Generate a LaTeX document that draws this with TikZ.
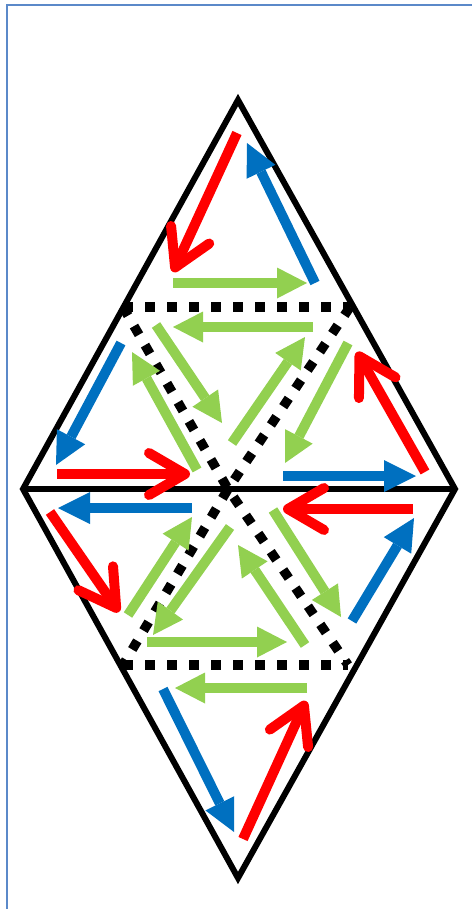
\documentclass[tikz,border=0pt]{standalone}
\usetikzlibrary{arrows.meta}
\definecolor{frameblue}{RGB}{91,137,201}
\definecolor{arrowred}{RGB}{255,0,0}
\definecolor{arrowblue}{RGB}{0,112,192}
\definecolor{arrowgreen}{RGB}{146,208,80}
\tikzset{
  base_arrow/.style = {line width=10pt},
  red_arrow/.style = {base_arrow, arrowred,
    -{Straight Barb[length=36pt, width=42pt, round]}},% fleche ouverte
  blue_arrow/.style = {base_arrow, arrowblue,
    -{Triangle[length=32pt, width=32pt, line width=0pt]}},% fleche pleine
  green_arrow/.style = {base_arrow, arrowgreen,
    -{Triangle[length=30pt, width=31pt, line width=0pt]}},% fleche pleine
  edge_line/.style = {line width=6pt, black, line join=miter},% bord du losange
  dot_line/.style = {line width=9.5pt, black, dash pattern=on 10pt off 12pt}% pointilles
}

\begin{document}
\begin{tikzpicture}[x=1pt, y=-1pt]
  \useasboundingbox (0,0) rectangle (472,909);
  \draw[frameblue, line width=2.5pt] (7,909) -- (7,5) -- (472,5);
  % losange
  \coordinate (top) at (238,100);
  \coordinate (right) at (455,489);
  \coordinate (bottom) at (238,878);
  \coordinate (left) at (23,489);
  % pointilles
  \coordinate (center) at (228,489);
  \coordinate (dot_tl) at (123,307);
  \coordinate (dot_tr) at (350,307);
  \coordinate (dot_bl) at (123,665);
  \coordinate (dot_br) at (348,665);
  \draw[dot_line] (dot_tl) -- (dot_tr);
  \draw[dot_line] (dot_bl) -- (dot_br);
  \draw[dot_line] (dot_tl) -- (center) -- (dot_br);
  \draw[dot_line] (dot_tr) -- (center) -- (dot_bl);
  \draw[edge_line] (top) -- (right) -- (bottom) -- (left) -- cycle;
  \draw[edge_line] (left) -- (right);
  % fleches
  \foreach \xa/\ya/\xb/\yb in {237/133/173/272, 57/474/190/474,
      425/472/357/352, 50/512/119/612, 413/509/283/509, 243/839/306/701}
    \draw[red_arrow] (\xa,\ya) -- (\xb,\yb);
  \foreach \xa/\ya/\xb/\yb in {315/283/247/143, 121/343/56/465,
      283/476/416/476, 192/508/58/508, 352/621/414/518, 163/689/234/832}
    \draw[blue_arrow] (\xa,\ya) -- (\xb,\yb);
  \foreach \xa/\ya/\xb/\yb in {173/283/307/283, 313/327/173/327,
      156/325/222/423, 232/443/305/337, 197/470/132/352, 348/343/285/463,
      128/615/192/517, 230/527/153/635, 147/642/287/642, 305/645/238/545,
      273/510/341/617, 307/688/175/688}
    \draw[green_arrow] (\xa,\ya) -- (\xb,\yb);
\end{tikzpicture}
\end{document}
